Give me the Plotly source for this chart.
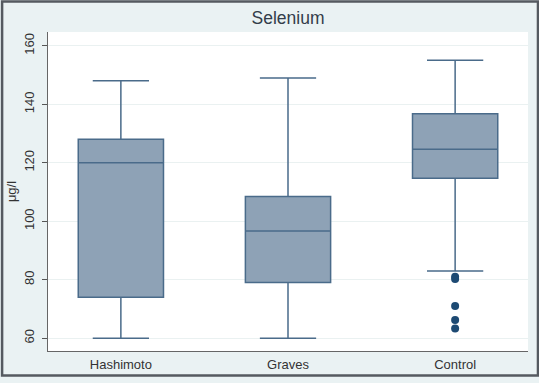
import plotly.graph_objects as go

categories = ["Hashimoto", "Graves", "Control"]
lower_whisker = [60, 60, 83]
q1_vals = [74, 79, 114.7]
median_vals = [120, 96.6, 124.6]
q3_vals = [128, 108.4, 136.7]
upper_whisker = [148, 149, 155]
outlier_group = ["Control", "Control", "Control", "Control", "Control"]
outlier_vals = [81, 80.2, 71, 66.2, 63.3]
y_ticks = [60, 80, 100, 120, 140, 160]

W, H = 539, 383
ml, mr, mt, mb = 47, 11, 32, 26
pw, ph = W - ml - mr, H - mt - mb

fig = go.Figure()
fig.add_trace(go.Box(
    x=categories, q1=q1_vals, median=median_vals, q3=q3_vals,
    lowerfence=lower_whisker, upperfence=upper_whisker,
    boxpoints=False, fillcolor="#8ea2b6",
    line=dict(color="#4a6b8a", width=1.5),
    whiskerwidth=0.66, width=0.51, showlegend=False, hoverinfo="skip"))
fig.add_trace(go.Scatter(
    x=outlier_group, y=outlier_vals, mode="markers",
    marker=dict(color="#1d4a73", size=8), showlegend=False))

# outer frame
fig.add_shape(type="rect", xref="paper", yref="paper",
              x0=(-ml + 1) / pw, x1=(pw + mr - 1) / pw,
              y0=(-mb + 1) / ph, y1=(ph + mt - 1) / ph,
              line=dict(color="#555a60", width=2.5), layer="above")

fig.update_layout(
    width=W, height=H,
    margin=dict(l=ml, r=mr, t=mt, b=mb),
    paper_bgcolor="#eaf2f3", plot_bgcolor="#ffffff",
    font=dict(family="Liberation Sans, Arial, sans-serif", color="#333333", size=13),
    title=dict(text="Selenium", x=0.5, xref="paper", xanchor="center",
               y=1 - 17.5 / H, yanchor="middle", yref="container",
               font=dict(size=17.5, color="#333d4a")),
    xaxis=dict(range=[-0.436, 2.436], showgrid=False, showline=True,
               linecolor="#666666", linewidth=1, ticks="", ticklabelstandoff=1,
               tickfont=dict(size=13, color="#333333"), zeroline=False, fixedrange=True),
    yaxis=dict(range=[55.6, 164.7], tickvals=y_ticks, ticks="outside", ticklen=5,
               tickcolor="#555555", showline=True, linecolor="#666666", linewidth=1,
               showgrid=True, gridcolor="#eaf1f1", gridwidth=1, zeroline=False,
               tickangle=-90, tickfont=dict(size=13, color="#333333"), ticklabelstandoff=3,
               title=dict(text="μg/l", standoff=2, font=dict(size=13, color="#333333"))),
)

fig.write_html("out.html", config={"displayModeBar": False},
               post_script="document.body.style.margin='0';document.body.style.overflow='hidden';")
